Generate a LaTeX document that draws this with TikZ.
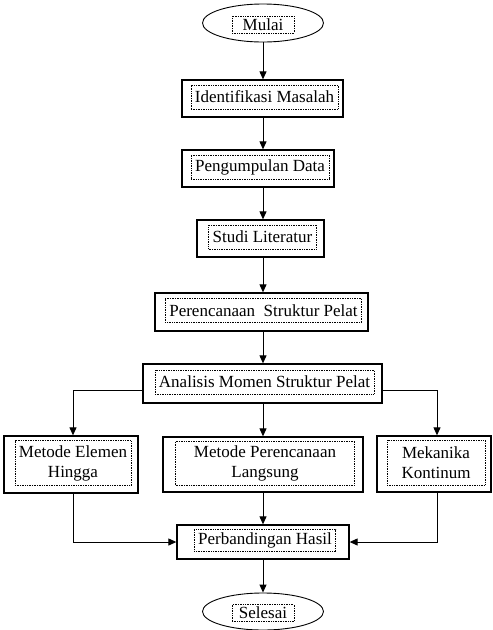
\documentclass[tikz,border=0pt]{standalone}
\usepackage{fontspec}
\setmainfont{Liberation Serif}
\usetikzlibrary{shapes,arrows.meta}
\tikzset{
kotak/.style 2 args={
	  draw, line width=1.3pt, minimum width=#1, minimum height=#2},
isi/.style={
	  draw, densely dotted, line width=0.7pt, inner xsep=4pt, inner ysep=2pt,
	  minimum height=24pt, align=center, xshift=2pt, yshift=1.5pt},
isioval/.style={
	  draw, densely dotted, line width=0.7pt, inner sep=1pt,
	  minimum width=62pt, minimum height=17pt, yshift=-1.5pt},
oval/.style={
	  draw, ellipse, line width=0.9pt, minimum width=121pt, minimum height=38pt},
panah/.style={-{Triangle[length=8pt,width=7pt]}, line width=1pt}
}

\begin{document}
\begin{tikzpicture}[x=1pt, y=-1pt, font=\fontsize{17}{20}\selectfont]
	\useasboundingbox (0,0) rectangle (493,630);
	\node[oval] (mulai) at (263,23) {};
	\node[isioval] (mulai-t) at (mulai) {Mulai};
	\node[kotak={161pt}{37pt}] (idm) at (262.5,98.5) {};
	\node[isi] (idm-t) at (idm) {Identifikasi Masalah};
	\node[kotak={152pt}{37pt}] (data) at (258,168.5) {};
	\node[isi] (data-t) at (data) {Pengumpulan Data};
	\node[kotak={127pt}{37pt}] (studi) at (260.5,238.5) {};
	\node[isi] (studi-t) at (studi) {Studi Literatur};
	\node[kotak={213pt}{38pt}] (rencana) at (261.5,312) {};
	\node[isi] (rencana-t) at (rencana) {Perencanaan\ \ Struktur Pelat};
	\node[kotak={239pt}{39pt}] (analisis) at (262.5,383.5) {};
	\node[isi] (analisis-t) at (analisis) {Analisis Momen Struktur Pelat};
	\node[kotak={134pt}{57pt}] (mef) at (71,464.5) {};
	\node[isi, minimum width=112pt, minimum height=45pt] (mef-t) at (mef)
		{Metode Elemen\\Hingga};
	\node[kotak={200pt}{55pt}] (mpl) at (263,464.5) {};
	\node[isi, minimum width=179pt, minimum height=44pt] (mpl-t) at (mpl)
		{Metode Perencanaan\\Langsung};
	\node[kotak={114pt}{56pt}] (mk) at (434,464) {};
	\node[isi, minimum width=98pt, minimum height=45pt] (mk-t) at (mk)
		{Mekanika\\Kontinum};
	\node[kotak={172pt}{34pt}] (hasil) at (263,542) {};
	\node[isi, minimum height=22pt] (hasil-t) at (hasil) {Perbandingan Hasil};
	\node[oval, minimum height=37pt] (selesai) at (263,611.5) {};
	\node[isioval] (selesai-t) at (selesai) {Selesai};

	\draw[panah] (mulai.south) -- (idm.north -| mulai);
	\draw[panah] (idm.south -| mulai) -- (data.north -| mulai);
	\draw[panah] (data.south -| mulai) -- (studi.north -| mulai);
	\draw[panah] (studi.south -| mulai) -- (rencana.north -| mulai);
	\draw[panah] (rencana.south -| mulai) -- (analisis.north -| mulai);
	\draw[panah] ([yshift=-6.5pt]analisis.west) -| ([xshift=2pt]mef.north);
	\draw[panah] (analisis.south -| mulai) -- (mpl.north -| mulai);
	\draw[panah] ([yshift=-6.5pt]analisis.east) -| ([xshift=3pt]mk.north);
	\draw[panah] ([xshift=2pt]mef.south) |- (hasil);
	\draw[panah] (mpl.south -| mulai) -- (hasil.north -| mulai);
	\draw[panah] ([xshift=3pt]mk.south) |- (hasil);
	\draw[panah] (hasil.south -| mulai) -- (selesai.north);
\end{tikzpicture}
\end{document}
